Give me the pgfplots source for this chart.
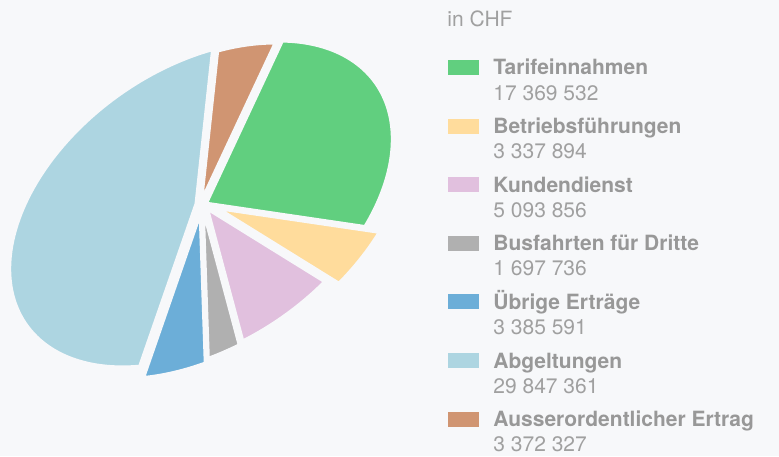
\documentclass[border=0pt]{standalone}
\usepackage{pgfplots}
\usepackage{pgfplotstable}
\pgfplotsset{compat=1.18}
\usepackage{fontspec}
\setmainfont{TeX Gyre Heros}

\definecolor{bg}{RGB}{247,248,250}
\definecolor{txt}{RGB}{152,152,152}
\definecolor{txtl}{RGB}{160,160,160}
\definecolor{c0}{RGB}{97,207,127}
\definecolor{c1}{RGB}{255,220,156}
\definecolor{c2}{RGB}{225,192,222}
\definecolor{c3}{RGB}{176,176,176}
\definecolor{c4}{RGB}{108,174,216}
\definecolor{c5}{RGB}{173,213,225}
\definecolor{c6}{RGB}{208,149,114}
\pagecolor{bg}

\pgfplotstableread[col sep=semicolon]{
name;value
Tarifeinnahmen;17369532
Betriebsführungen;3337894
Kundendienst;5093856
Busfahrten für Dritte;1697736
Übrige Erträge;3385591
Abgeltungen;29847361
Ausserordentlicher Ertrag;3372327
}\pietable

% per-slice offset (px) and radius factor, to mimic the tilted/exploded look
\pgfplotstableread{
dx dy s
3  0  1.00
12 3  1.04
4  3  1.00
0  -2 1.06
-1 5  1.04
-5 0  1.00
-2 2  1.00
}\pielayout

\def\runsum{0}
\foreach \i in {0,...,6}{%
  \pgfplotstablegetelem{\i}{value}\of\pietable
  \xdef\runsum{\fpeval{\runsum+\pgfplotsretval}}}
\let\total\runsum
\def\runsum{0}
\foreach \i in {0,...,6}{%
  \pgfplotstablegetelem{\i}{value}\of\pietable
  \expandafter\xdef\csname bs\i\endcsname{\fpeval{41.5-360*\runsum/\total}}%
  \xdef\runsum{\fpeval{\runsum+\pgfplotsretval}}%
  \expandafter\xdef\csname be\i\endcsname{\fpeval{41.5-360*\runsum/\total}}%
  \pgfplotstablegetelem{\i}{dx}\of\pielayout
  \expandafter\xdef\csname cx\i\endcsname{\fpeval{202+\pgfplotsretval}}%
  \pgfplotstablegetelem{\i}{dy}\of\pielayout
  \expandafter\xdef\csname cy\i\endcsname{\fpeval{204+\pgfplotsretval}}%
  \pgfplotstablegetelem{\i}{s}\of\pielayout
  \expandafter\xdef\csname sc\i\endcsname{\pgfplotsretval}}

\begin{document}
\begin{tikzpicture}
\begin{axis}[scale only axis, width=389.5pt, height=228pt,
  xmin=0, xmax=779, ymin=0, ymax=456, y dir=reverse,
  axis lines=none, clip=false]
  % ellipse: semi-axes 210 x 135, major axis at 35.3 deg
  \pgfplotsinvokeforeach{0,...,6}{
    \addplot[draw=none, fill=c#1, samples=90, variable=\t,
      domain=\csname be#1\endcsname:\csname bs#1\endcsname]
      ({\csname cx#1\endcsname+\csname sc#1\endcsname*(171.4*cos(\t)-78.0*sin(\t))},
       {\csname cy#1\endcsname-\csname sc#1\endcsname*(121.4*cos(\t)+110.2*sin(\t))})
      -- (\csname cx#1\endcsname,\csname cy#1\endcsname) -- cycle;
  }
  \pgfplotsinvokeforeach{0,...,6}{
    \addplot[draw=bg, fill=none, line width=2.5pt, line join=round,
      samples=90, variable=\t,
      domain=\csname be#1\endcsname:\csname bs#1\endcsname]
      ({\csname cx#1\endcsname+\csname sc#1\endcsname*(171.4*cos(\t)-78.0*sin(\t))},
       {\csname cy#1\endcsname-\csname sc#1\endcsname*(121.4*cos(\t)+110.2*sin(\t))})
      -- (\csname cx#1\endcsname,\csname cy#1\endcsname) -- cycle;
  }
\end{axis}
\begin{scope}[x=0.5pt, y=-0.5pt, shift={(0,228pt)},
  every node/.style={anchor=base west, inner sep=0pt,
    font=\fontsize{10.5}{12}\selectfont}]
  \node[text=txtl] at (447,27) {in CHF};
  \foreach \i in {0,...,6}{
    \pgfmathsetmacro\yy{75+58.6*\i}
    \fill[c\i] (448,\yy-15) rectangle (479,\yy);
    \pgfplotstablegetelem{\i}{name}\of\pietable
    \node[text=txt] at (493,\yy) {\bfseries\pgfplotsretval};
    \pgfplotstablegetelem{\i}{value}\of\pietable
    \node[text=txtl] at (493,\yy+25)
      {\pgfmathprintnumber[fixed, precision=0, 1000 sep={\ },
        assume math mode=true]{\pgfplotsretval}};
  }
\end{scope}
\path (0,0) rectangle (389.5pt,228pt);
\end{tikzpicture}
\end{document}
